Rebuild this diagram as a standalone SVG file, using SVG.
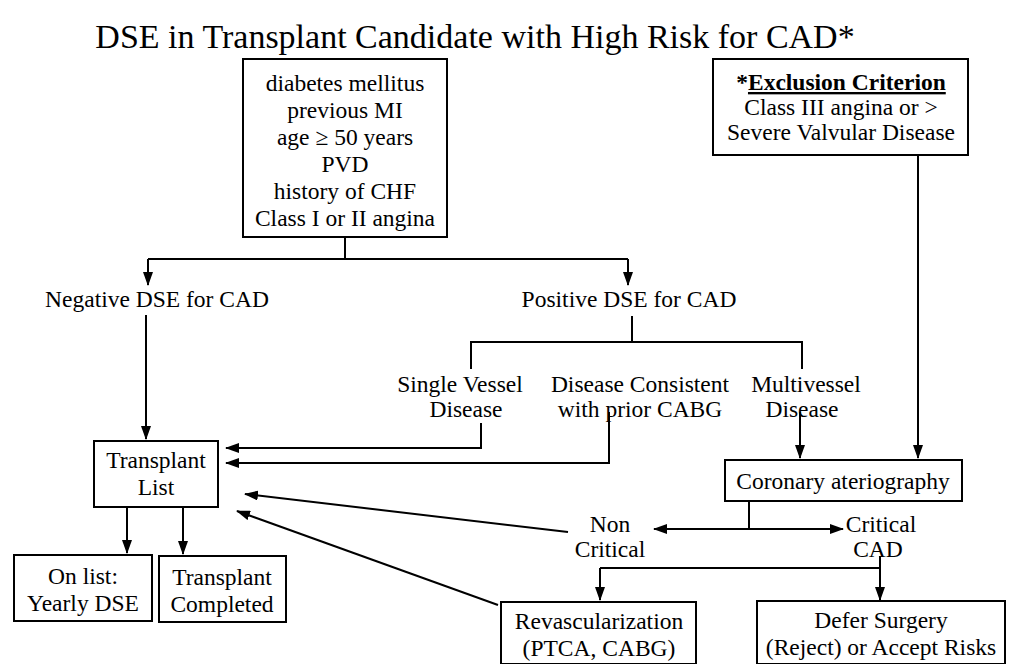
<svg xmlns="http://www.w3.org/2000/svg" width="1018" height="664" viewBox="0 0 1018 664">
<defs>
<style>
text{font-family:"Liberation Serif","Times New Roman",serif;font-size:23.5px;fill:#000;text-anchor:middle}
.title{font-size:34px}
.b{font-weight:bold}
rect{fill:#fff;stroke:#000;stroke-width:2}
.c{fill:none;stroke:#000;stroke-width:2}
.a{marker-end:url(#ah)}
</style>
<marker id="ah" viewBox="0 0 14 10" refX="13" refY="5" markerWidth="14" markerHeight="10" markerUnits="userSpaceOnUse" orient="auto-start-reverse"><path d="M0,0 L14,5 L0,10 z" fill="#000"/></marker>
</defs>
<rect x="0" y="0" width="1018" height="664" style="fill:#fff;stroke:none"/>
<g id="title"><text class="title" x="475" y="48">DSE in Transplant Candidate with High Risk for CAD*</text></g>

<g id="connectors">
<path class="c" d="M345,237 V259 M148,259 H628"/>
<path class="c a" d="M148,259 V285"/>
<path class="c a" d="M628,259 V285"/>
<path class="c a" d="M146,315 V439"/>
<path class="c" d="M632,316 V342 M471,369 V342 H802 V369"/>
<path class="c a" d="M481,423 V448 H226"/>
<path class="c a" d="M609,412 V463 H226"/>
<path class="c a" d="M800,412 V458"/>
<path class="c a" d="M918,155 V458"/>
<path class="c a" d="M127,507 V553"/>
<path class="c a" d="M183,507 V554"/>
<path class="c" d="M749,501 V529"/>
<path class="c a" d="M654,529 H843" style="marker-start:url(#ah)"/>
<path class="c a" d="M568,532 L245,494"/>
<path class="c a" d="M498,605 L237,511"/>
<path class="c" d="M880,556 V568 M600,568 H880"/>
<path class="c a" d="M600,568 V600"/>
<path class="c a" d="M880,568 V600"/>
</g>

<g id="risk-factors">
<rect x="243" y="59" width="204" height="178"/>
<text x="345" y="91">diabetes mellitus</text>
<text x="345" y="118">previous MI</text>
<text x="345" y="145">age ≥ 50 years</text>
<text x="345" y="172">PVD</text>
<text x="345" y="199">history of CHF</text>
<text x="345" y="226">Class I or II angina</text>
</g>

<g id="exclusion">
<rect x="713" y="59" width="255" height="96"/>
<text x="841" y="90" class="b">*<tspan style="text-decoration:underline">Exclusion Criterion</tspan></text>
<text x="841" y="115">Class III angina or &gt;</text>
<text x="841" y="140">Severe Valvular Disease</text>
</g>

<g id="negative"><text x="157" y="307">Negative DSE for CAD</text></g>
<g id="positive"><text x="629" y="307">Positive DSE for CAD</text></g>

<g id="single-vessel">
<text x="460" y="392">Single Vessel</text>
<text x="466" y="417">Disease</text>
</g>
<g id="prior-cabg">
<text x="640" y="392">Disease Consistent</text>
<text x="640" y="417">with prior CABG</text>
</g>
<g id="multivessel">
<text x="806" y="392">Multivessel</text>
<text x="802" y="417">Disease</text>
</g>

<g id="transplant-list">
<rect x="94" y="441" width="124" height="66"/>
<text x="156" y="468">Transplant</text>
<text x="156" y="495">List</text>
</g>

<g id="on-list">
<rect x="14" y="555" width="138" height="66"/>
<text x="83" y="584">On list:</text>
<text x="83" y="611">Yearly DSE</text>
</g>

<g id="completed">
<rect x="159" y="556" width="127" height="66"/>
<text x="222" y="585">Transplant</text>
<text x="222" y="612">Completed</text>
</g>

<g id="coronary">
<rect x="725" y="460" width="237" height="41"/>
<text x="843" y="489">Coronary ateriography</text>
</g>

<g id="non-critical">
<text x="610" y="532">Non</text>
<text x="610" y="557">Critical</text>
</g>

<g id="critical-cad">
<text x="881" y="532">Critical</text>
<text x="878" y="557">CAD</text>
</g>

<g id="revascularization">
<rect x="501" y="602" width="195" height="62"/>
<text x="599" y="629">Revascularization</text>
<text x="599" y="656">(PTCA, CABG)</text>
</g>

<g id="defer">
<rect x="757" y="601" width="248" height="63"/>
<text x="881" y="628">Defer Surgery</text>
<text x="881" y="655">(Reject) or Accept Risks</text>
</g>
</svg>
